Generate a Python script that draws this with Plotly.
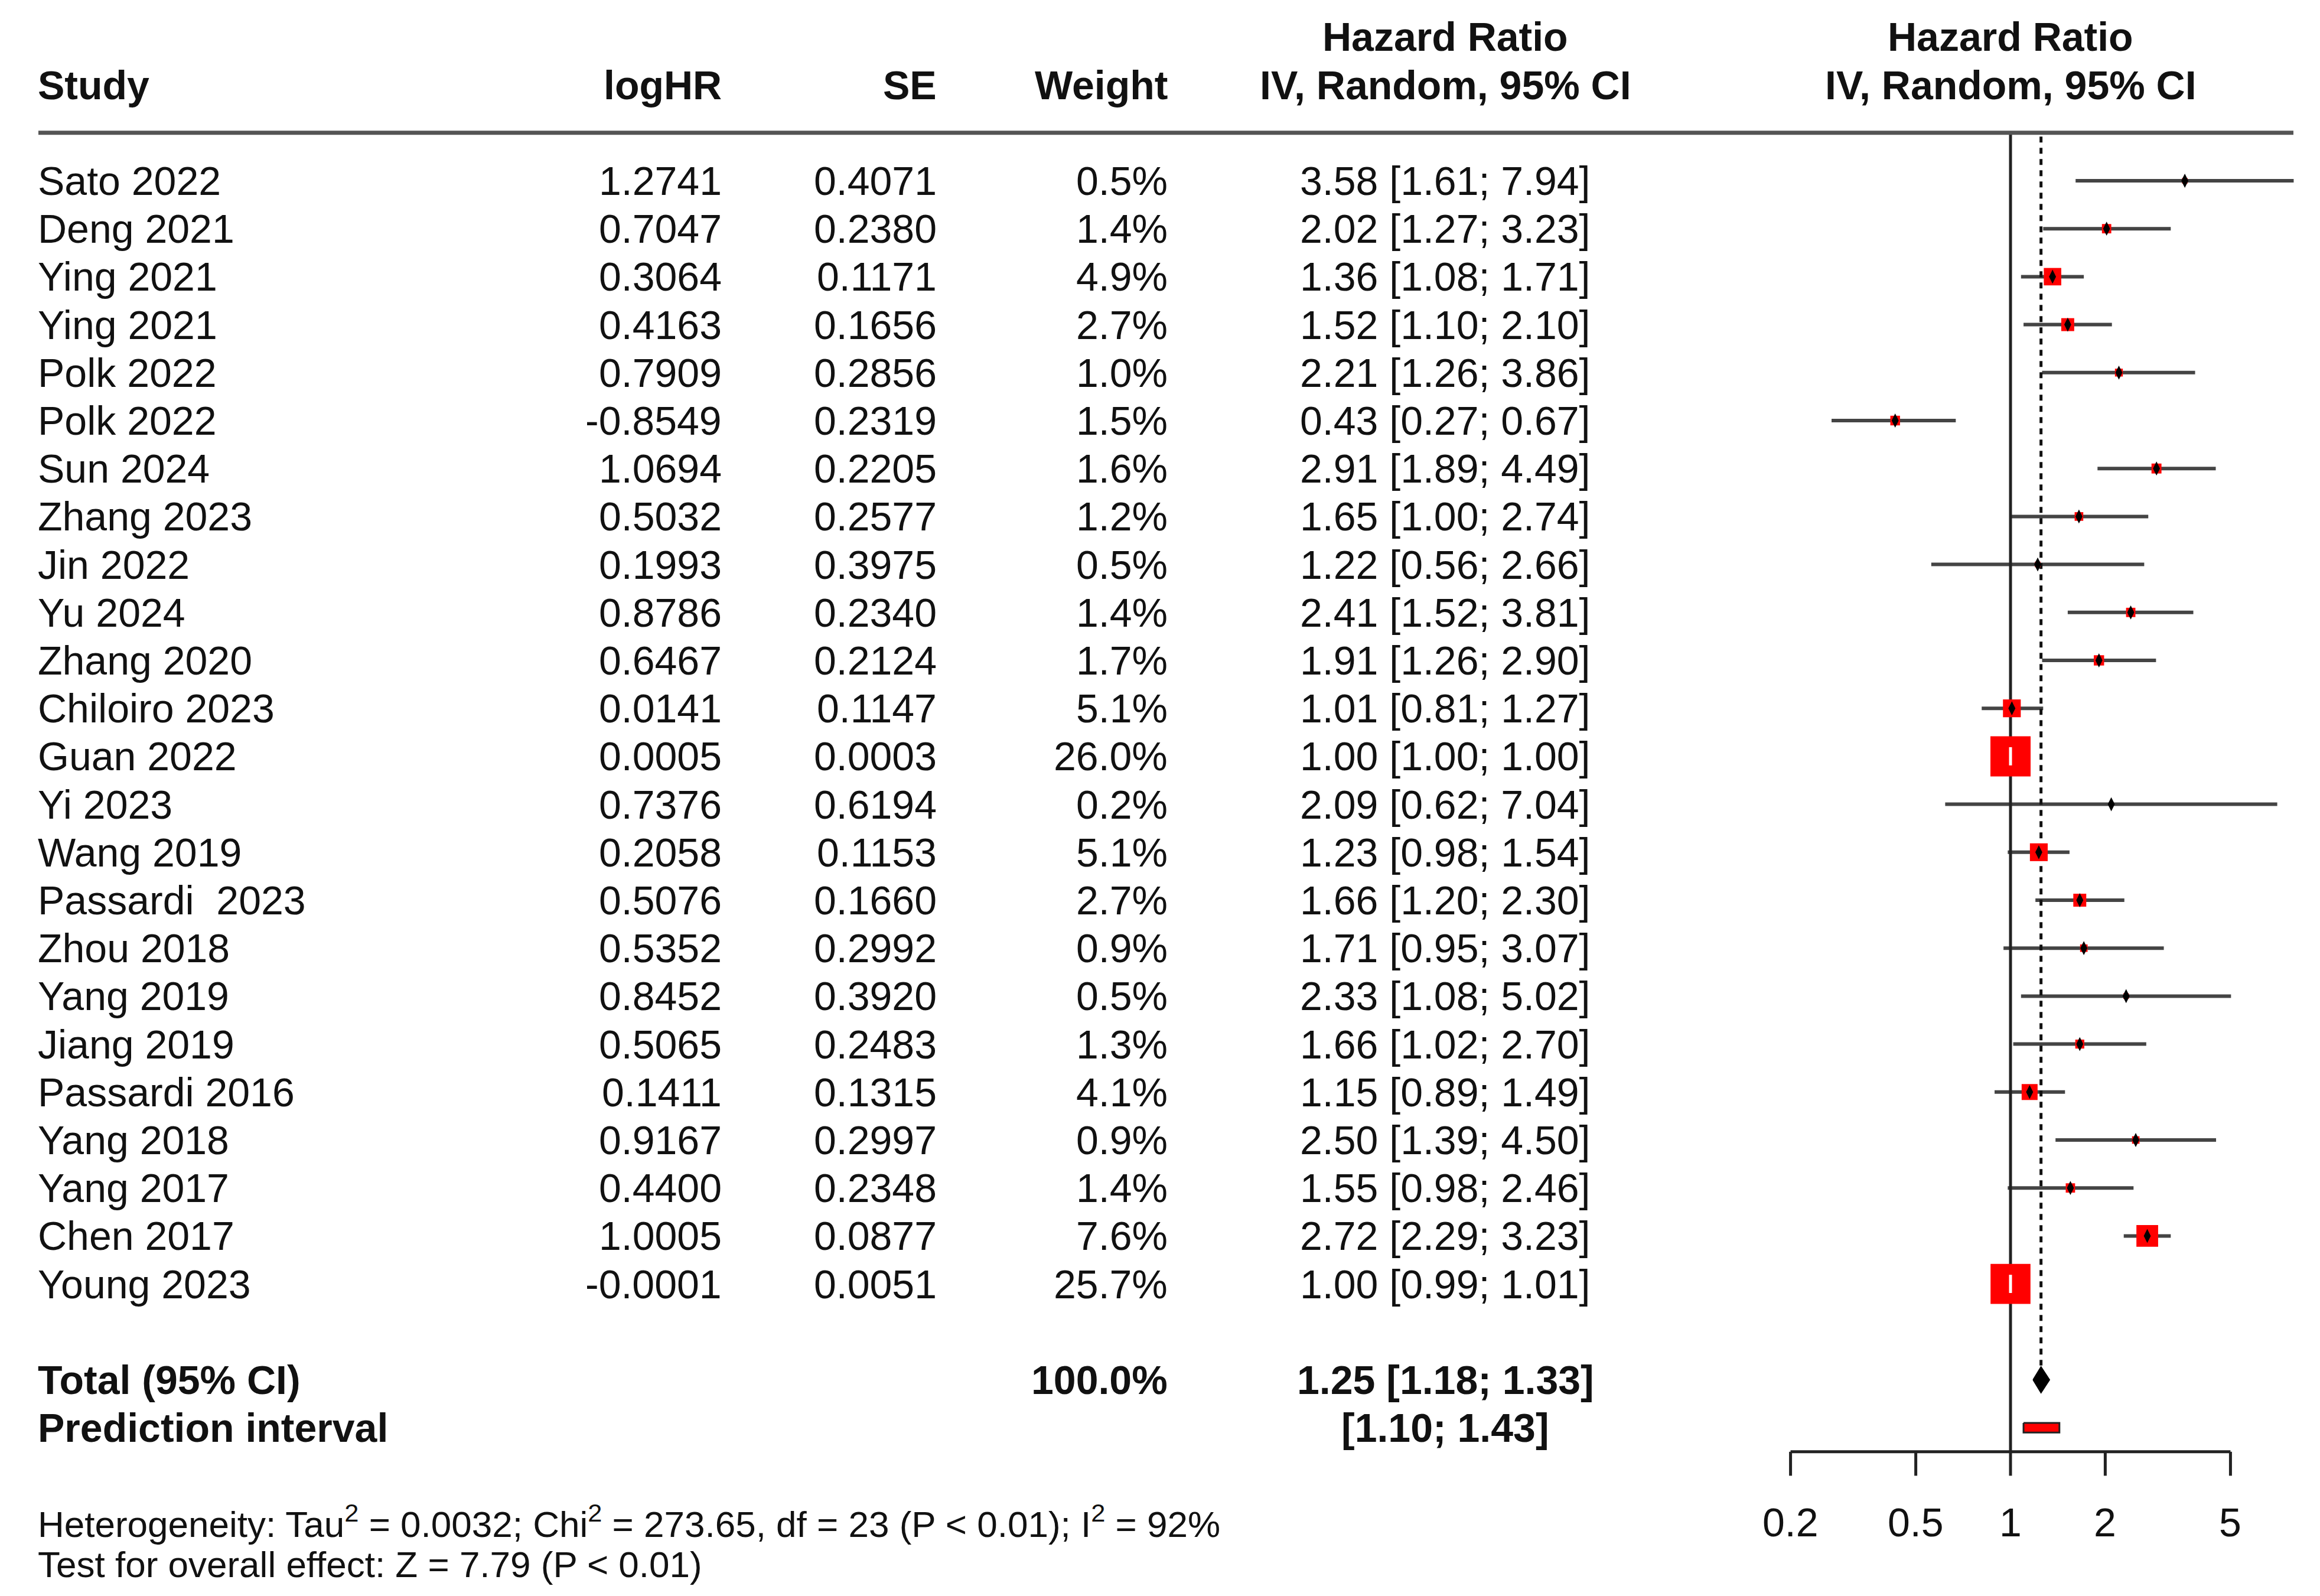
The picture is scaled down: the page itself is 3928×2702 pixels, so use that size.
import math
import plotly.graph_objects as go

# ---------------- data ----------------
studies = ["Sato 2022", "Deng 2021", "Ying 2021", "Ying 2021", "Polk 2022", "Polk 2022",
           "Sun 2024", "Zhang 2023", "Jin 2022", "Yu 2024", "Zhang 2020", "Chiloiro 2023",
           "Guan 2022", "Yi 2023", "Wang 2019", "Passardi  2023", "Zhou 2018", "Yang 2019",
           "Jiang 2019", "Passardi 2016", "Yang 2018", "Yang 2017", "Chen 2017", "Young 2023"]
log_hr = [1.2741, 0.7047, 0.3064, 0.4163, 0.7909, -0.8549, 1.0694, 0.5032, 0.1993, 0.8786,
          0.6467, 0.0141, 0.0005, 0.7376, 0.2058, 0.5076, 0.5352, 0.8452, 0.5065, 0.1411,
          0.9167, 0.4400, 1.0005, -0.0001]
se = [0.4071, 0.2380, 0.1171, 0.1656, 0.2856, 0.2319, 0.2205, 0.2577, 0.3975, 0.2340,
      0.2124, 0.1147, 0.0003, 0.6194, 0.1153, 0.1660, 0.2992, 0.3920, 0.2483, 0.1315,
      0.2997, 0.2348, 0.0877, 0.0051]
weight = [0.5, 1.4, 4.9, 2.7, 1.0, 1.5, 1.6, 1.2, 0.5, 1.4, 1.7, 5.1, 26.0, 0.2, 5.1, 2.7,
          0.9, 0.5, 1.3, 4.1, 0.9, 1.4, 7.6, 25.7]
hr = [3.58, 2.02, 1.36, 1.52, 2.21, 0.43, 2.91, 1.65, 1.22, 2.41, 1.91, 1.01, 1.00, 2.09,
      1.23, 1.66, 1.71, 2.33, 1.66, 1.15, 2.50, 1.55, 2.72, 1.00]
lower = [1.61, 1.27, 1.08, 1.10, 1.26, 0.27, 1.89, 1.00, 0.56, 1.52, 1.26, 0.81, 1.00, 0.62,
         0.98, 1.20, 0.95, 1.08, 1.02, 0.89, 1.39, 0.98, 2.29, 0.99]
upper = [7.94, 3.23, 1.71, 2.10, 3.86, 0.67, 4.49, 2.74, 2.66, 3.81, 2.90, 1.27, 1.00, 7.04,
         1.54, 2.30, 3.07, 5.02, 2.70, 1.49, 4.50, 2.46, 3.23, 1.01]

total_weight = 100.0
total_hr, total_lo, total_hi = 1.25, 1.18, 1.33
pred_lo, pred_hi = 1.10, 1.43
tick_vals = [0.2, 0.5, 1, 2, 5]
tick_text = ["0.2", "0.5", "1", "2", "5"]
het_text = ("Heterogeneity: Tau<sup>2</sup> = 0.0032; Chi<sup>2</sup> = 273.65, df = 23 "
            "(P &lt; 0.01); I<sup>2</sup> = 92%")
test_text = "Test for overall effect: Z = 7.79 (P &lt; 0.01)"

# ---------------- layout geometry ----------------
W, H = 3928, 2702
ROW0_PX, ROW_PX = 306, 81.2
Y_TOP = (0 - ROW0_PX) / ROW_PX
Y_BOT = (H - ROW0_PX) / ROW_PX
X_ONE_PX, PX_PER_LN, X_DOM_PX = 3404, 231.4, 2900
x_lo = math.log10(math.exp((X_DOM_PX - X_ONE_PX) / PX_PER_LN))
x_hi = math.log10(math.exp((W - X_ONE_PX) / PX_PER_LN))

FONT = "Liberation Sans, Arial, Helvetica, sans-serif"
FS = 68
FS_SMALL = 62
TXT = "#111111"
LINE = "#444444"

COL_STUDY = 62 / W
COL_LOGHR = 1224 / W
COL_SE = 1588 / W
COL_WEIGHT = 1979 / W
COL_HR = 2447 / W

n = len(studies)
rows = list(range(n))
row_total = n + 1
row_pred = n + 2
row_axis = n + 2.5

fig = go.Figure()

# CI lines
xs, ys = [], []
for i in rows:
    xs += [lower[i], upper[i], None]
    ys += [i, i, None]
fig.add_trace(go.Scatter(x=xs, y=ys, mode="lines", line=dict(color=LINE, width=6),
                         hoverinfo="skip", showlegend=False))

# vertical reference line at 1
fig.add_trace(go.Scatter(x=[1, 1], y=[-1, row_axis], mode="lines",
                         line=dict(color="#222222", width=5), hoverinfo="skip", showlegend=False))
# dotted line at pooled estimate
fig.add_trace(go.Scatter(x=[total_hr, total_hr], y=[-0.92, row_total - 0.3], mode="lines",
                         line=dict(color="#111111", width=5, dash="10px,9px"),
                         hoverinfo="skip", showlegend=False))

# squares
sizes = [68 * math.sqrt(w / 26.0) for w in weight]
fig.add_trace(go.Scatter(x=hr, y=rows, mode="markers",
                         marker=dict(symbol="square", size=sizes, color="#ff0000", opacity=1,
                                     line=dict(width=0)),
                         hoverinfo="skip", showlegend=False))

# centre marks (white when CI lies inside the square)
inside = []
for i in rows:
    half = sizes[i] / 2 / PX_PER_LN
    inside.append(math.log(lower[i]) >= math.log(hr[i]) - half and
                  math.log(upper[i]) <= math.log(hr[i]) + half)
blk_x = [hr[i] for i in rows if not inside[i]]
blk_y = [i for i in rows if not inside[i]]
wht_x = [hr[i] for i in rows if inside[i]]
wht_y = [i for i in rows if inside[i]]
fig.add_trace(go.Scatter(x=blk_x, y=blk_y, mode="markers",
                         marker=dict(symbol="diamond-tall", size=17, color="#000000", opacity=1),
                         hoverinfo="skip", showlegend=False))
fig.add_trace(go.Scatter(x=wht_x, y=wht_y, mode="markers",
                         marker=dict(symbol="line-ns", size=22, opacity=1,
                                     line=dict(color="#ffffff", width=5)),
                         hoverinfo="skip", showlegend=False))

# pooled diamond
fig.add_trace(go.Scatter(x=[total_lo, total_hr, total_hi, total_hr, total_lo],
                         y=[row_total, row_total - 0.27, row_total, row_total + 0.27, row_total],
                         mode="lines", fill="toself", fillcolor="#000000",
                         line=dict(color="#000000", width=2), hoverinfo="skip", showlegend=False))

# prediction interval bar
fig.add_trace(go.Scatter(x=[pred_lo, pred_hi, pred_hi, pred_lo, pred_lo],
                         y=[row_pred - 0.1, row_pred - 0.1, row_pred + 0.1, row_pred + 0.1, row_pred - 0.1],
                         mode="lines", fill="toself", fillcolor="#ff0000",
                         line=dict(color="#222222", width=3), hoverinfo="skip", showlegend=False))

# x axis (drawn)
ax_x = [tick_vals[0], tick_vals[-1], None]
ax_y = [row_axis, row_axis, None]
for t in tick_vals:
    ax_x += [t, t, None]
    ax_y += [row_axis, row_axis + 0.5, None]
fig.add_trace(go.Scatter(x=ax_x, y=ax_y, mode="lines", line=dict(color="#222222", width=5),
                         hoverinfo="skip", showlegend=False))

# header rule
fig.add_shape(type="line", xref="paper", yref="y", x0=65 / W, x1=3883 / W, y0=-1, y1=-1,
              line=dict(color="#555555", width=7))

ann = []


def add(text, x, y, anchor, bold=False, size=FS, xref="paper"):
    t = f"<b>{text}</b>" if bold else text
    ann.append(dict(text=t, x=x, y=y, xref=xref, yref="y", xanchor=anchor, yanchor="middle",
                    showarrow=False, font=dict(family=FONT, size=size, color=TXT)))


# headers
add("Study", COL_STUDY, -2, "left", True)
add("logHR", COL_LOGHR, -2, "right", True)
add("SE", COL_SE, -2, "right", True)
add("Weight", COL_WEIGHT, -2, "right", True)
add("Hazard Ratio", COL_HR, -3, "center", True)
add("IV, Random, 95% CI", COL_HR, -2, "center", True)
add("Hazard Ratio", math.log10(1), -3, "center", True, xref="x")
add("IV, Random, 95% CI", math.log10(1), -2, "center", True, xref="x")

# study rows
for i in rows:
    name = studies[i].replace("  ", "\u00a0 ")
    add(name, COL_STUDY, i, "left")
    add(f"{log_hr[i]:.4f}", COL_LOGHR, i, "right")
    add(f"{se[i]:.4f}", COL_SE, i, "right")
    add(f"{weight[i]:.1f}%", COL_WEIGHT, i, "right")
    add(f"{hr[i]:.2f} [{lower[i]:.2f}; {upper[i]:.2f}]", COL_HR, i, "center")

# summary rows
add("Total (95% CI)", COL_STUDY, row_total, "left", True)
add(f"{total_weight:.1f}%", COL_WEIGHT, row_total, "right", True)
add(f"{total_hr:.2f} [{total_lo:.2f}; {total_hi:.2f}]", COL_HR, row_total, "center", True)
add("Prediction interval", COL_STUDY, row_pred, "left", True)
add(f"[{pred_lo:.2f}; {pred_hi:.2f}]", COL_HR, row_pred, "center", True)

# tick labels
for t, lab in zip(tick_vals, tick_text):
    add(lab, math.log10(t), row_axis + 1.47, "center", xref="x")

# heterogeneity
add(het_text, COL_STUDY, row_axis + 1.45, "left", size=FS_SMALL)
add(test_text, COL_STUDY, row_axis + 2.35, "left", size=FS_SMALL)

fig.update_layout(
    width=W, height=H,
    margin=dict(l=0, r=0, t=0, b=0),
    paper_bgcolor="white", plot_bgcolor="white",
    showlegend=False,
    annotations=ann,
    xaxis=dict(type="log", domain=[X_DOM_PX / W, 1], range=[x_lo, x_hi], visible=False,
               showgrid=False, zeroline=False),
    yaxis=dict(range=[Y_BOT, Y_TOP], domain=[0, 1], visible=False, showgrid=False,
               zeroline=False),
)

fig.write_html("out.html", config={"displayModeBar": False},
               post_script="document.body.style.margin='0';")
